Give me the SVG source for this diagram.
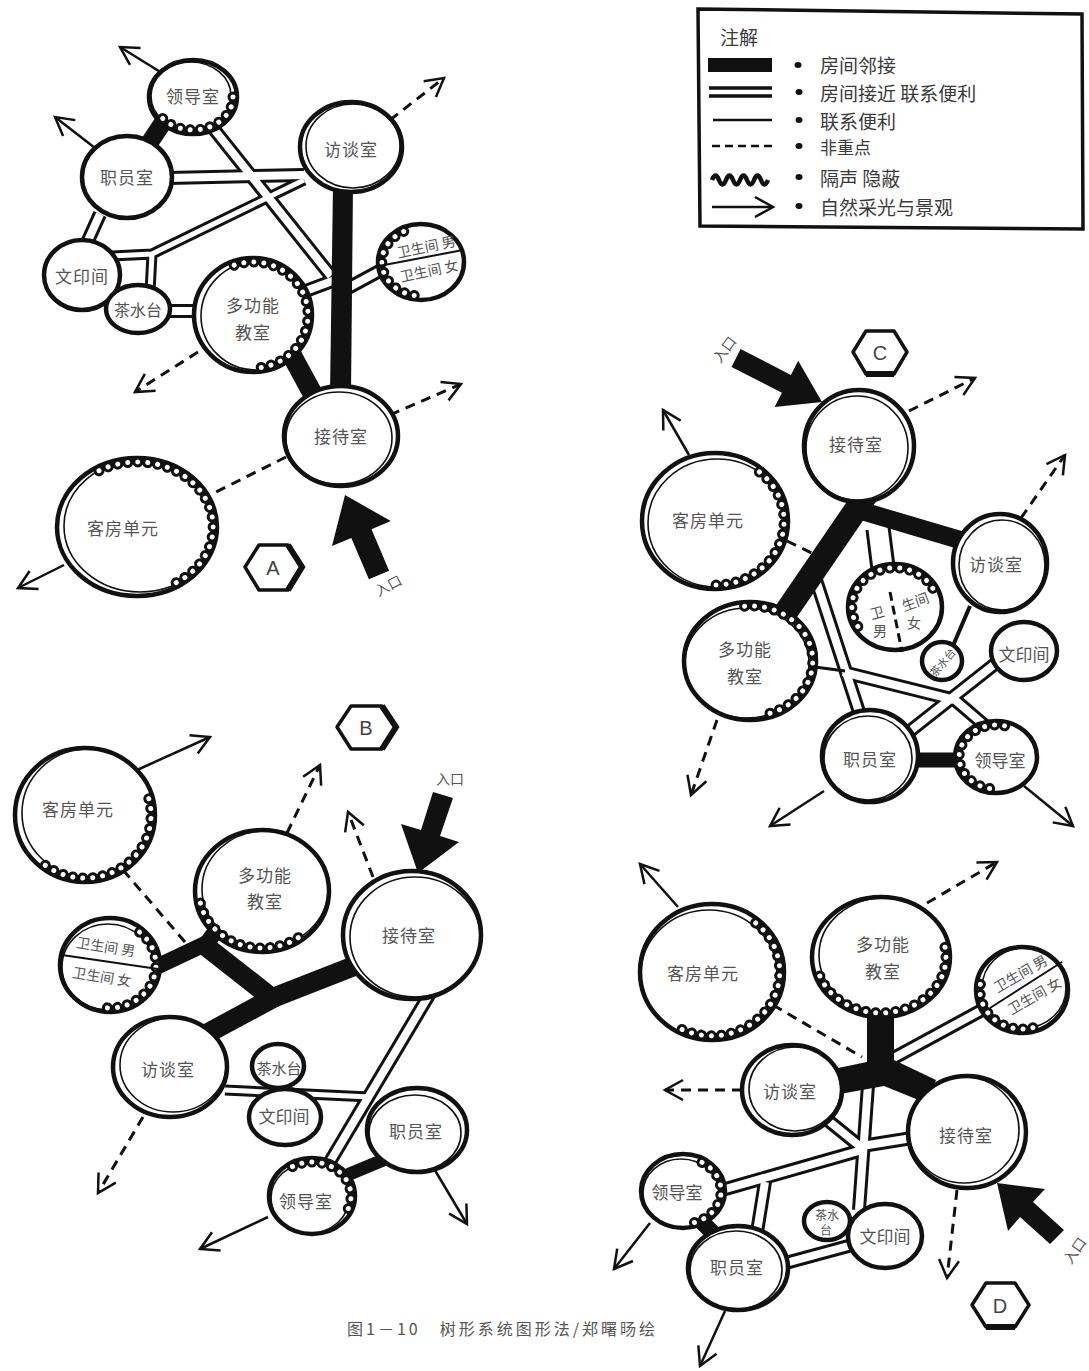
<svg xmlns="http://www.w3.org/2000/svg" width="1089" height="1371" viewBox="0 0 1089 1371">
<defs>
<style>
.rm{fill:#fff;stroke:#111;stroke-width:4.5}
.rm2{fill:none;stroke:#111;stroke-width:1.6}
.sc{fill:none;stroke:#111;stroke-width:11;stroke-dasharray:0.01 10;stroke-linecap:round}
.sch{fill:none;stroke:#fff;stroke-width:5;stroke-dasharray:0.01 10;stroke-linecap:round}
.t{font-family:"Noto Sans CJK SC","Noto Sans",sans-serif;font-size:17px;fill:#555;text-anchor:middle;dominant-baseline:central;letter-spacing:1px}
.ts{font-size:14px;letter-spacing:0}
.tx{font-size:11px;letter-spacing:0}
.adj{fill:none;stroke:#111}
.adjf{fill:#111}
.dO{fill:none;stroke:#111;stroke-width:14}
.dI{fill:none;stroke:#fff;stroke-width:8}
.nO{fill:none;stroke:#111;stroke-width:11}
.nI{fill:none;stroke:#fff;stroke-width:5}
.thin{fill:none;stroke:#111;stroke-width:3}
.dash{fill:none;stroke:#111;stroke-width:3;stroke-dasharray:10 7}
.arw{marker-end:url(#vee)}
.sol{fill:none;stroke:#111;stroke-width:2.5}
.hex{fill:#fff;stroke:#111;stroke-width:3.5;stroke-linejoin:round}
.hl{font-family:"Liberation Sans",sans-serif;font-size:20px;fill:#444;text-anchor:middle;dominant-baseline:central}
.lg{font-family:"Noto Sans CJK SC","Noto Sans",sans-serif;font-size:19px;fill:#3a3a3a;dominant-baseline:central}
</style>
<marker id="vee" viewBox="0 0 24 24" refX="21" refY="12" markerWidth="24" markerHeight="24" markerUnits="userSpaceOnUse" orient="auto">
<path d="M3,2 L21,12 L3,22" fill="none" stroke="#111" stroke-width="2.5"/>
</marker>
</defs>
<rect width="1089" height="1371" fill="#fff"/>

<!-- legend -->
<g id="legend">
<polygon points="698,9 1082,14 1083,229 700,226" fill="none" stroke="#111" stroke-width="3.5"/>
<text class="lg" x="720" y="36">注解</text>
<rect x="708" y="58" width="64" height="14" fill="#111"/>
<path d="M709,88 L772,88 M709,96 L772,96" stroke="#111" stroke-width="3.5" fill="none"/>
<path d="M713,120 L772,120" stroke="#111" stroke-width="2.5" fill="none"/>
<path d="M712,146 L772,146" stroke="#111" stroke-width="2.5" stroke-dasharray="8 5" fill="none"/>
<path d="M712,180 q3.5,-9 7,0 t7,0 t7,0 t7,0 t7,0 t7,0 t7,0 t7,0" stroke="#111" stroke-width="4.5" fill="none"/>
<path class="sol arw" d="M712,207 L773,207"/>
<g fill="#111">
<ellipse cx="798" cy="65" rx="3.5" ry="3"/>
<ellipse cx="799" cy="92" rx="3.5" ry="3"/>
<ellipse cx="799" cy="120" rx="3.5" ry="3"/>
<ellipse cx="799" cy="146" rx="3.5" ry="3"/>
<ellipse cx="799" cy="177" rx="3.5" ry="3"/>
<ellipse cx="799" cy="206" rx="3.5" ry="3"/>
</g>
<text class="lg" x="820" y="64">房间邻接</text>
<text class="lg" x="820" y="92">房间接近 联系便利</text>
<text class="lg" x="820" y="120">联系便利</text>
<text class="lg" x="820" y="146" style="font-size:17px">非重点</text>
<text class="lg" x="820" y="177">隔声 隐蔽</text>
<text class="lg" x="820" y="206">自然采光与景观</text>
</g>

<!-- connectors of all four schemes -->
<g id="connectors">
<!-- double lines: outer strokes -->
<g>
<path class="dO" d="M213,128 L331,276"/>
<path class="dO" d="M168,178 L304,175"/>
<path class="dO" d="M100,214 L86,245"/>
<path class="dO" d="M165,311 L200,311"/>
<path class="dO" d="M348,288 L385,268"/>
<path class="dO" d="M303,292 L335,280"/>
<path class="nO" d="M304,180 L152,254 L112,256 M152,254 L150,292"/>
<path class="dO" d="M816,580 L860,715"/>
<path class="dO" d="M843,672 L955,700 L990,730"/>
<path class="dO" d="M1000,660 L905,735"/>
<path class="dO" d="M432,990 L328,1165"/>
<path class="nO" d="M225,1090 L370,1097"/>
<path class="dO" d="M890,1060 L982,1010"/>
<path class="dO" d="M868,1085 L859,1210"/>
<path class="dO" d="M825,1118 L862,1148"/>
<path class="dO" d="M912,1138 L862,1146"/>
<path class="dO" d="M862,1150 L722,1190"/>
<path class="dO" d="M765,1182 L757,1232"/>
<path class="dO" d="M782,1264 L852,1245"/>
</g>
<!-- double lines: inner strokes -->
<g>
<path class="dI" d="M213,128 L331,276"/>
<path class="dI" d="M168,178 L304,175"/>
<path class="dI" d="M100,214 L86,245"/>
<path class="dI" d="M165,311 L200,311"/>
<path class="dI" d="M348,288 L385,268"/>
<path class="dI" d="M303,292 L335,280"/>
<path class="nI" d="M304,180 L152,254 L112,256 M152,254 L150,292"/>
<path class="dI" d="M816,580 L860,715"/>
<path class="dI" d="M843,672 L955,700 L990,730"/>
<path class="dI" d="M1000,660 L905,735"/>
<path class="dI" d="M432,990 L328,1165"/>
<path class="nI" d="M225,1090 L370,1097"/>
<path class="dI" d="M890,1060 L982,1010"/>
<path class="dI" d="M868,1085 L859,1210"/>
<path class="dI" d="M825,1118 L862,1148"/>
<path class="dI" d="M912,1138 L862,1146"/>
<path class="dI" d="M862,1150 L722,1190"/>
<path class="dI" d="M765,1182 L757,1232"/>
<path class="dI" d="M782,1264 L852,1245"/>
</g>
<!-- single convenience links -->
<g>
<path class="thin" d="M867,530 L872,570 M889,527 L894,566"/>
<path class="thin" d="M970,606 L952,648" style="stroke-width:4"/>
<path class="thin" d="M815,667 L845,671"/>
</g>
<!-- adjacency (heavy) -->
<g>
<path class="adj" d="M166,118 L146,148" stroke-width="18"/>
<polygon class="adjf" points="333,186 353,186 351,393 330,393"/>
<path class="adj" d="M290,352 L315,398" stroke-width="20"/>
<path class="adj" d="M866,495 L786,612" stroke-width="24"/>
<path class="adj" d="M852,508 L960,540" stroke-width="18"/>
<path class="adj" d="M912,760 L962,760" stroke-width="15"/>
<path class="adj" d="M152,969 L207,943" stroke-width="16"/>
<path class="adj" d="M205,946 L220,925" stroke-width="16"/>
<path class="adj" d="M203,944 L273,999" stroke-width="20"/>
<path class="adj" d="M270,999 L362,963" stroke-width="20"/>
<path class="adj" d="M275,997 L208,1033" stroke-width="20"/>
<path class="adj" d="M340,1178 L388,1158" stroke-width="13"/>
<polygon class="adjf" points="867,1012 894,1012 894,1060 936,1080 926,1103 884,1086 840,1094 838,1068 867,1062"/>
<path class="adj" d="M700,1220 L720,1240" stroke-width="16"/>
</g>
<!-- secondary (dashed) -->
<g>
<path class="dash arw" d="M198,352 L135,392"/>
<path class="dash arw" d="M390,120 L444,78"/>
<path class="dash arw" d="M390,415 L461,384"/>
<path class="dash" d="M286,457 L212,494"/>
<path class="dash" d="M787,541 L822,558"/>
<path class="dash arw" d="M909,411 L975,378"/>
<path class="dash arw" d="M1021,518 L1065,455"/>
<path class="dash arw" d="M717,720 L691,795"/>
<path class="dash" d="M123,870 L185,942"/>
<path class="dash arw" d="M287,833 L320,765"/>
<path class="dash arw" d="M373,877 L348,812"/>
<path class="dash arw" d="M143,1117 L98,1193"/>
<path class="dash" d="M773,1005 L862,1057"/>
<path class="dash arw" d="M927,903 L997,862"/>
<path class="dash arw" d="M742,1090 L665,1090"/>
<path class="dash arw" d="M957,1190 L947,1278"/>
</g>
<!-- daylight and view -->
<g>
<path class="sol arw" d="M162,73 L120,47"/>
<path class="sol arw" d="M95,148 L55,117"/>
<path class="sol arw" d="M64,565 L18,588"/>
<path class="sol arw" d="M689,455 L663,410"/>
<path class="sol arw" d="M824,791 L770,826"/>
<path class="sol arw" d="M1024,786 L1073,826"/>
<path class="sol arw" d="M137,770 L210,737"/>
<path class="sol arw" d="M433,1167 L467,1224"/>
<path class="sol arw" d="M268,1217 L200,1249"/>
<path class="sol arw" d="M678,907 L640,864"/>
<path class="sol arw" d="M650,1223 L614,1269"/>
<path class="sol arw" d="M725,1311 L700,1366"/>
</g>
</g>

<!-- entrances -->
<g id="entrances" fill="#111">
<polygon points="345,495 390.8,521.1 371.5,529.3 389.1,570.7 368.9,579.3 351.3,537.9 332,546.1"/>
<polygon points="822,402 774.6,406.9 781.9,392.7 731.5,366.9 740.6,349.1 790.9,374.9 798.2,360.7"/>
<polygon points="433,792 453,798 440,836 459,842 418,873 401,824 421,830"/>
<polygon points="1050,1244 1064,1230 1033,1202 1045,1189 997,1183 1008,1231 1020,1217"/>
<text class="t ts" x="388" y="585" transform="rotate(-28 388 585)">入口</text>
<text class="t ts" x="724" y="349" transform="rotate(-53 724 349)">入口</text>
<text class="t ts" x="450" y="778">入口</text>
<text class="t ts" x="1074" y="1250" transform="rotate(-55 1074 1250)">入口</text>
</g>

<!-- scheme labels -->
<g id="label-A"><polygon class="hex" points="245,567 259,545 288,545 302,567 288,590 259,590"/><path d="M288,545 L302,567 L288,590" fill="none" stroke="#111" stroke-width="6"/><text class="hl" x="273" y="568">A</text></g>
<g id="label-B"><polygon class="hex" points="337,727 351,706 382,706 396,727 382,749 351,749"/><path d="M382,706 L396,727 L382,749" fill="none" stroke="#111" stroke-width="6"/><text class="hl" x="366" y="728">B</text></g>
<g id="label-C"><polygon class="hex" points="853,352 866,331 894,331 907,352 894,374 866,374"/><path d="M894,374 L866,374" fill="none" stroke="#111" stroke-width="6"/><text class="hl" x="880" y="353">C</text></g>
<g id="label-D"><polygon class="hex" points="972,1305 986,1283 1015,1283 1029,1305 1015,1327 986,1327"/><path d="M1015,1327 L986,1327" fill="none" stroke="#111" stroke-width="6"/><text class="hl" x="1000" y="1306">D</text></g>

<!-- scheme A -->
<g id="a-lingdao"><ellipse class="rm" cx="193" cy="97" rx="44" ry="37"/><ellipse class="rm2" cx="191" cy="96" rx="40" ry="34"/><path class="sc" d="M233,97 A40,33 0 0 1 158.4,113.5"/><path class="sch" d="M233,97 A40,33 0 0 1 158.4,113.5"/><text class="t" x="193" y="95">领导室</text></g>
<g id="a-zhiyuan"><ellipse class="rm" cx="127" cy="177" rx="45" ry="41"/><text class="t" x="127" y="176">职员室</text></g>
<g id="a-fangtan"><ellipse class="rm" cx="351" cy="147" rx="51" ry="45"/><ellipse class="rm2" cx="353" cy="146" rx="47" ry="42"/><text class="t" x="351" y="148">访谈室</text></g>
<g id="a-weisheng"><ellipse class="rm" cx="421" cy="262" rx="43" ry="38"/><path class="sc" d="M414.2,295.5 A39,34 0 0 1 407.7,230"/><path class="sch" d="M414.2,295.5 A39,34 0 0 1 407.7,230"/><path d="M379,266 L463,250" stroke="#111" stroke-width="2"/><text class="t ts" x="426" y="246" transform="rotate(-12 426 246)">卫生间 男</text><text class="t ts" x="429" y="270" transform="rotate(-12 429 270)">卫生间 女</text></g>
<g id="a-wenyin"><ellipse class="rm" cx="82" cy="275" rx="38" ry="35"/><text class="t" x="82" y="275">文印间</text></g>
<g id="a-chashui"><ellipse class="rm" cx="138" cy="309" rx="32" ry="24"/><text class="t" x="138" y="309" style="font-size:16px;letter-spacing:0">茶水台</text></g>
<g id="a-duogongneng"><ellipse class="rm" cx="253" cy="315" rx="59" ry="57"/><ellipse class="rm2" cx="256" cy="316" rx="55" ry="54"/><path class="sc" d="M234.2,265.2 A55,53 0 1 1 253,368"/><path class="sch" d="M234.2,265.2 A55,53 0 1 1 253,368"/><text class="t" x="253" y="304">多功能</text><text class="t" x="253" y="331">教室</text></g>
<g id="a-jiedai"><ellipse class="rm" cx="341" cy="436" rx="57" ry="50"/><ellipse class="rm2" cx="339" cy="438" rx="53" ry="46"/><text class="t" x="341" y="435">接待室</text></g>
<g id="a-kefang"><ellipse class="rm" cx="137" cy="527" rx="80" ry="69"/><ellipse class="rm2" cx="140" cy="526" rx="76" ry="66"/><path class="sc" d="M99,470.7 A76,65 0 1 1 169.1,585.9"/><path class="sch" d="M99,470.7 A76,65 0 1 1 169.1,585.9"/><text class="t" x="123" y="527">客房单元</text></g>

<!-- scheme C -->
<g id="c-jiedai"><ellipse class="rm" cx="859" cy="446" rx="55" ry="56"/><ellipse class="rm2" cx="857" cy="448" rx="51" ry="52"/><text class="t" x="856" y="443">接待室</text></g>
<g id="c-kefang"><ellipse class="rm" cx="715" cy="521" rx="73" ry="68"/><ellipse class="rm2" cx="717" cy="523" rx="69" ry="64"/><path class="sc" d="M759.4,472 A69,64 0 0 1 709,584.8"/><path class="sch" d="M759.4,472 A69,64 0 0 1 709,584.8"/><text class="t" x="708" y="519">客房单元</text></g>
<g id="c-fangtan"><ellipse class="rm" cx="1000" cy="563" rx="47" ry="49"/><ellipse class="rm2" cx="1002" cy="565" rx="43" ry="45"/><text class="t" x="996" y="563">访谈室</text></g>
<g id="c-weisheng"><ellipse class="rm" cx="895" cy="607" rx="47" ry="43"/><path class="sc" d="M857.8,626.5 A43,39 0 1 1 935.4,593.7"/><path class="sch" d="M857.8,626.5 A43,39 0 1 1 935.4,593.7"/><path d="M890,592 L902,652" stroke="#111" stroke-width="3" stroke-dasharray="9 5"/><text class="t ts" x="877" y="612" transform="rotate(-15 877 612)">卫</text><text class="t ts" x="915" y="601" transform="rotate(-20 915 601)">生间</text><text class="t ts" x="880" y="630">男</text><text class="t ts" x="914" y="622">女</text></g>
<g id="c-duogongneng"><ellipse class="rm" cx="750" cy="661" rx="66" ry="59"/><ellipse class="rm2" cx="747" cy="663" rx="62" ry="55"/><path class="sc" d="M744.6,606.2 A62,55 0 0 1 760.8,715.2"/><path class="sch" d="M744.6,606.2 A62,55 0 0 1 760.8,715.2"/><text class="t" x="745" y="648">多功能</text><text class="t" x="745" y="675">教室</text></g>
<g id="c-chashui"><ellipse class="rm" cx="942" cy="661" rx="20" ry="19"/><text class="t tx" x="942" y="662" transform="rotate(-50 942 662)">茶水台</text></g>
<g id="c-wenyin"><ellipse class="rm" cx="1024" cy="651" rx="33" ry="29"/><text class="t" x="1024" y="653" style="letter-spacing:0">文印间</text></g>
<g id="c-zhiyuan"><ellipse class="rm" cx="870" cy="756" rx="48" ry="46"/><ellipse class="rm2" cx="868" cy="758" rx="44" ry="42"/><text class="t" x="870" y="758">职员室</text></g>
<g id="c-lingdao"><ellipse class="rm" cx="996" cy="757" rx="41" ry="36"/><path class="sc" d="M989.6,788.5 A37,32 0 1 1 1008.7,726.9"/><path class="sch" d="M989.6,788.5 A37,32 0 1 1 1008.7,726.9"/><text class="t" x="1000" y="759" style="letter-spacing:0">领导室</text></g>

<!-- scheme B -->
<g id="b-kefang"><ellipse class="rm" cx="85" cy="815" rx="70" ry="67"/><ellipse class="rm2" cx="88" cy="813" rx="66" ry="64"/><path class="sc" d="M148.8,798.7 A66,63 0 0 1 42.6,863.3"/><path class="sch" d="M148.8,798.7 A66,63 0 0 1 42.6,863.3"/><text class="t" x="78" y="808">客房单元</text></g>
<g id="b-duogongneng"><ellipse class="rm" cx="262" cy="891" rx="67" ry="61"/><ellipse class="rm2" cx="265" cy="889" rx="63" ry="58"/><path class="sc" d="M298.2,937.7 A63,57 0 0 1 199.2,896"/><path class="sch" d="M298.2,937.7 A63,57 0 0 1 199.2,896"/><text class="t" x="265" y="874">多功能</text><text class="t" x="265" y="900">教室</text></g>
<g id="b-jiedai"><ellipse class="rm" cx="412" cy="935" rx="69" ry="64"/><ellipse class="rm2" cx="415" cy="937" rx="65" ry="60"/><text class="t" x="409" y="934">接待室</text></g>
<g id="b-weisheng"><ellipse class="rm" cx="110" cy="965" rx="50" ry="47"/><ellipse class="rm2" cx="108" cy="967" rx="46" ry="43"/><path class="sc" d="M139.6,932.1 A46,43 0 0 1 102,1007.3"/><path class="sch" d="M139.6,932.1 A46,43 0 0 1 102,1007.3"/><path d="M62,955 L158,969" stroke="#111" stroke-width="2"/><text class="t ts" x="106" y="946" transform="rotate(9 106 946)">卫生间 男</text><text class="t ts" x="102" y="976" transform="rotate(9 102 976)">卫生间 女</text></g>
<g id="b-fangtan"><ellipse class="rm" cx="170" cy="1067" rx="57" ry="50"/><ellipse class="rm2" cx="173" cy="1065" rx="53" ry="47"/><text class="t" x="168" y="1068">访谈室</text></g>
<g id="b-chashui"><ellipse class="rm" cx="278" cy="1066" rx="26" ry="22"/><text class="t" x="279" y="1067" style="font-size:15px;letter-spacing:0">茶水台</text></g>
<g id="b-wenyin"><ellipse class="rm" cx="285" cy="1117" rx="36" ry="28"/><text class="t" x="284" y="1115" style="letter-spacing:0">文印间</text></g>
<g id="b-zhiyuan"><ellipse class="rm" cx="417" cy="1130" rx="50" ry="42"/><ellipse class="rm2" cx="415" cy="1133" rx="46" ry="38"/><text class="t" x="416" y="1130">职员室</text></g>
<g id="b-lingdao"><ellipse class="rm" cx="312" cy="1196" rx="43" ry="38"/><ellipse class="rm2" cx="310" cy="1198" rx="39" ry="35"/><path class="sc" d="M292.5,1166.6 A39,34 0 0 1 345.8,1213"/><path class="sch" d="M292.5,1166.6 A39,34 0 0 1 345.8,1213"/><text class="t" x="306" y="1200">领导室</text></g>

<!-- scheme D -->
<g id="d-kefang"><ellipse class="rm" cx="712" cy="972" rx="72" ry="68"/><ellipse class="rm2" cx="709" cy="974" rx="68" ry="64"/><path class="sc" d="M755.7,923 A68,64 0 0 1 678,1027.4"/><path class="sch" d="M755.7,923 A68,64 0 0 1 678,1027.4"/><text class="t" x="703" y="972">客房单元</text></g>
<g id="d-duogongneng"><ellipse class="rm" cx="881" cy="957" rx="69" ry="60"/><ellipse class="rm2" cx="884" cy="955" rx="65" ry="57"/><path class="sc" d="M945,947.3 A65,56 0 0 1 818.2,971.5"/><path class="sch" d="M945,947.3 A65,56 0 0 1 818.2,971.5"/><text class="t" x="883" y="943">多功能</text><text class="t" x="883" y="970">教室</text></g>
<g id="d-weisheng"><ellipse class="rm" cx="1022" cy="990" rx="46" ry="43"/><ellipse class="rm2" cx="1024" cy="988" rx="42" ry="40"/><path class="sc" d="M1032.9,1027.7 A42,39 0 0 1 982.5,976.7"/><path class="sch" d="M1032.9,1027.7 A42,39 0 0 1 982.5,976.7"/><path d="M990,1008 L1062,962" stroke="#111" stroke-width="2"/><text class="t ts" x="1020" y="973" transform="rotate(-30 1020 973)">卫生间 男</text><text class="t ts" x="1034" y="995" transform="rotate(-30 1034 995)">卫生间 女</text></g>
<g id="d-fangtan"><ellipse class="rm" cx="792" cy="1090" rx="50" ry="45"/><ellipse class="rm2" cx="795" cy="1089" rx="46" ry="42"/><text class="t" x="790" y="1090">访谈室</text></g>
<g id="d-jiedai"><ellipse class="rm" cx="967" cy="1132" rx="59" ry="56"/><ellipse class="rm2" cx="964" cy="1130" rx="55" ry="53"/><text class="t" x="966" y="1134">接待室</text></g>
<g id="d-lingdao"><ellipse class="rm" cx="683" cy="1191" rx="42" ry="37"/><ellipse class="rm2" cx="681" cy="1193" rx="38" ry="34"/><path class="sc" d="M702,1162.4 A38,33 0 0 1 689.6,1223.5"/><path class="sch" d="M702,1162.4 A38,33 0 0 1 689.6,1223.5"/><text class="t" x="677" y="1191" style="letter-spacing:0">领导室</text></g>
<g id="d-zhiyuan"><ellipse class="rm" cx="738" cy="1268" rx="50" ry="42"/><ellipse class="rm2" cx="736" cy="1270" rx="46" ry="39"/><text class="t" x="737" y="1266">职员室</text></g>
<g id="d-chashui"><ellipse class="rm" cx="827" cy="1221" rx="23" ry="19"/><text class="t ts" x="827" y="1214" style="font-size:12px">茶水</text><text class="t ts" x="826" y="1229" style="font-size:12px">台</text></g>
<g id="d-wenyin"><ellipse class="rm" cx="885" cy="1236" rx="37" ry="32"/><text class="t" x="885" y="1235" style="letter-spacing:0">文印间</text></g>

<!-- caption -->
<text id="caption" x="347" y="1328" font-family="'Noto Sans CJK SC','Noto Sans',sans-serif" font-size="16" fill="#555" dominant-baseline="central" textLength="308" lengthAdjust="spacing">图1－10　树形系统图形法/郑曙旸绘</text>
</svg>
